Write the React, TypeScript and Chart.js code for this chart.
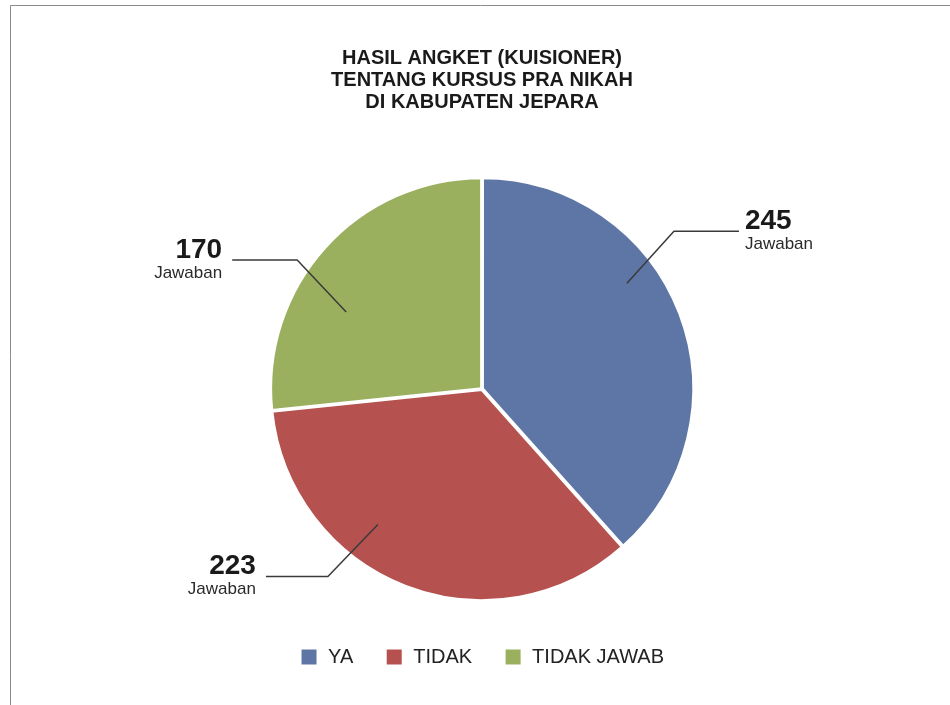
import React, { useEffect, useRef } from "react";
import { Chart, registerables } from "chart.js";

Chart.register(...registerables);

const titleLines = ["HASIL ANGKET (KUISIONER)", "TENTANG KURSUS PRA NIKAH", "DI KABUPATEN JEPARA"];
const categories = ["YA", "TIDAK", "TIDAK JAWAB"];
const values = [245, 223, 170];
const unitLabel = "Jawaban";
const colors = ["#5E76A5", "#B5514E", "#9BB05E"];

// leader line styling per slice (position within slice, elbow direction)
const leaders = [
  { frac: 0.39, rf: 0.85, ex: 47, ey: -52, run: 65 },
  { frac: 0.63, rf: 0.81, ex: -50, ey: 52, run: -62 },
  { frac: 0.37, rf: 0.74, ex: -49, ey: -52, run: -65 },
];

const FONT = "'Liberation Sans', Arial, sans-serif";

const framePlugin = {
  id: "frame",
  beforeDraw(chart: any) {
    const ctx = chart.ctx;
    ctx.save();
    ctx.fillStyle = "#ffffff";
    ctx.fillRect(0, 0, chart.width, chart.height);
    ctx.strokeStyle = "#8a8a8a";
    ctx.lineWidth = 1;
    ctx.beginPath();
    ctx.moveTo(10.5, chart.height);
    ctx.lineTo(10.5, 5.5);
    ctx.lineTo(chart.width, 5.5);
    ctx.stroke();
    ctx.restore();
  },
};

const leaderPlugin = {
  id: "leaders",
  afterDraw(chart: any) {
    const ctx = chart.ctx;
    const meta = chart.getDatasetMeta(0);
    ctx.save();
    meta.data.forEach((arc: any, i: number) => {
      const p = arc.getProps(["x", "y", "startAngle", "endAngle", "outerRadius"], true);
      const L = leaders[i];
      const a = p.startAngle + L.frac * (p.endAngle - p.startAngle);
      const ax = p.x + Math.cos(a) * p.outerRadius * L.rf;
      const ay = p.y + Math.sin(a) * p.outerRadius * L.rf;
      const bx = ax + L.ex;
      const by = ay + L.ey;
      const cx = bx + L.run;
      ctx.strokeStyle = "#3a3a3a";
      ctx.lineWidth = 1.5;
      ctx.beginPath();
      ctx.moveTo(ax, ay);
      ctx.lineTo(bx, by);
      ctx.lineTo(cx, by);
      ctx.stroke();
      const right = L.run < 0;
      const tx = right ? cx - 10 : cx + 6;
      ctx.textAlign = right ? "right" : "left";
      ctx.textBaseline = "middle";
      ctx.fillStyle = "#1a1a1a";
      ctx.font = `bold 28px ${FONT}`;
      ctx.fillText(String(chart.data.datasets[0].data[i]), tx, by - 10);
      ctx.fillStyle = "#2a2a2a";
      ctx.font = `17px ${FONT}`;
      ctx.fillText(unitLabel, tx, by + 13);
    });
    ctx.restore();
  },
};

export default function App() {
  const ref = useRef<HTMLCanvasElement | null>(null);
  useEffect(() => {
    document.body.style.margin = "0";
    const chart = new Chart(ref.current as HTMLCanvasElement, {
      type: "pie",
      data: {
        labels: categories,
        datasets: [
          {
            data: values,
            backgroundColor: colors,
            borderColor: "#ffffff",
            borderWidth: 3,
            offset: 2,
            radius: 211,
          } as any,
        ],
      },
      options: {
        responsive: false,
        animation: false,
        layout: { padding: { left: 14, right: 0, top: 0, bottom: 28 } },
        plugins: {
          tooltip: { enabled: false },
          title: {
            display: true,
            text: titleLines,
            color: "#1a1a1a",
            font: { family: FONT, size: 20, weight: "bold", lineHeight: 1.1 },
            padding: { top: 47, bottom: 50 },
          },
          legend: {
            display: true,
            position: "bottom",
            labels: {
              boxWidth: 18,
              boxHeight: 18,
              padding: 32,
              color: "#222222",
              font: { family: FONT, size: 20 },
            },
          },
        },
      },
      plugins: [framePlugin, leaderPlugin],
    });
    return () => chart.destroy();
  }, []);
  return <canvas ref={ref} width={950} height={705} style={{ display: "block" }} />;
}
